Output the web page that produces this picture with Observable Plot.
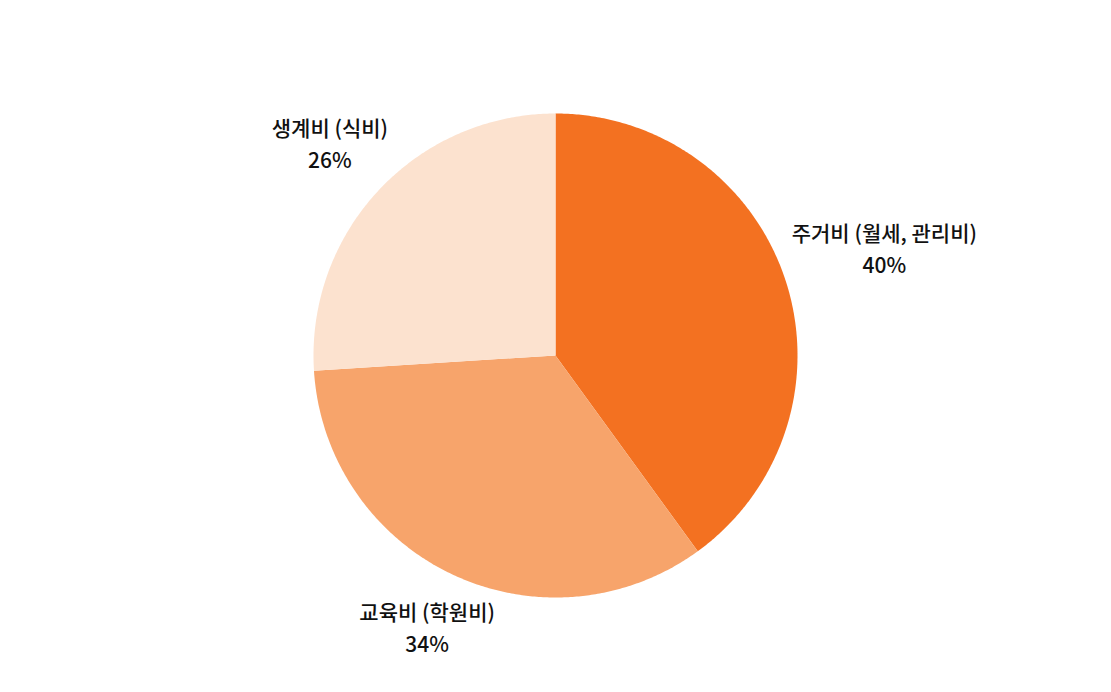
<!DOCTYPE html>
<html><head><meta charset="utf-8">
<script src="https://cdn.jsdelivr.net/npm/d3@7"></script>
<script src="https://cdn.jsdelivr.net/npm/@observablehq/plot@0.6"></script>
<style>
  html,body{margin:0;padding:0;background:#fff;}
</style>
</head><body><div id="chart"></div>
<script>
// ---- data ----
const categories = ["주거비 (월세, 관리비)", "교육비 (학원비)", "생계비 (식비)"];
const values = [40, 34, 26];
const valueLabels = ["40%", "34%", "26%"];
const colors = ["#F37121", "#F7A46B", "#FCE2CF"];

// ---- layout ----
const W = 1111, H = 692;
const cx = 555, cy = 355, r = 242;
const fontFamily = "'Noto Sans CJK KR', 'Noto Sans', sans-serif";
const fontSize = 21, fontWeight = 500, lineGap = 32;

const rows = categories.map((c, i) => ({category: c, value: values[i], label: valueLabels[i]}));
const arcs = d3.pie().sort(null).value(d => d.value)(rows);

// slice polygons (pixel plane, identity projection)
const features = arcs.map(a => {
  const pts = [[cx, cy]];
  const n = Math.max(2, Math.ceil((a.endAngle - a.startAngle) / (Math.PI / 360)));
  for (let k = 0; k <= n; k++) {
    const t = a.startAngle + (a.endAngle - a.startAngle) * k / n;
    pts.push([cx + r * Math.sin(t), cy - r * Math.cos(t)]);
  }
  pts.push([cx, cy]);
  return {type: "Feature", properties: {category: a.data.category}, geometry: {type: "Polygon", coordinates: [pts]}};
});

// label positions: outward along the mid-angle ray, pushed by half the text box
const ctx = document.createElement("canvas").getContext("2d");
ctx.font = `${fontWeight} ${fontSize}px ${fontFamily}`;
const labels = arcs.map(a => {
  const t = (a.startAngle + a.endAngle) / 2;
  const w = ctx.measureText(a.data.category).width;
  const h = lineGap + fontSize * 0.85;
  const d = r * 1.033 + (w / 2) * Math.abs(Math.sin(t)) + (h / 2) * Math.abs(Math.cos(t));
  return {x: cx + d * Math.sin(t), y: cy - d * Math.cos(t) - 2, text: a.data.category + "\n" + a.data.label};
});

const chart = Plot.plot({
  width: W,
  height: H,
  margin: 0,
  projection: {type: "identity"},
  color: {domain: categories, range: colors},
  style: {fontFamily, background: "#fff"},
  marks: [
    Plot.geo(features, {fill: d => d.properties.category, stroke: "none"}),
    Plot.text(labels, {
      x: "x", y: "y", text: "text",
      fontSize, fontWeight, fontFamily,
      lineAnchor: "middle", lineHeight: lineGap / fontSize,
      fill: "#111"
    })
  ]
});
document.getElementById("chart").appendChild(chart);
</script>
</body></html>
